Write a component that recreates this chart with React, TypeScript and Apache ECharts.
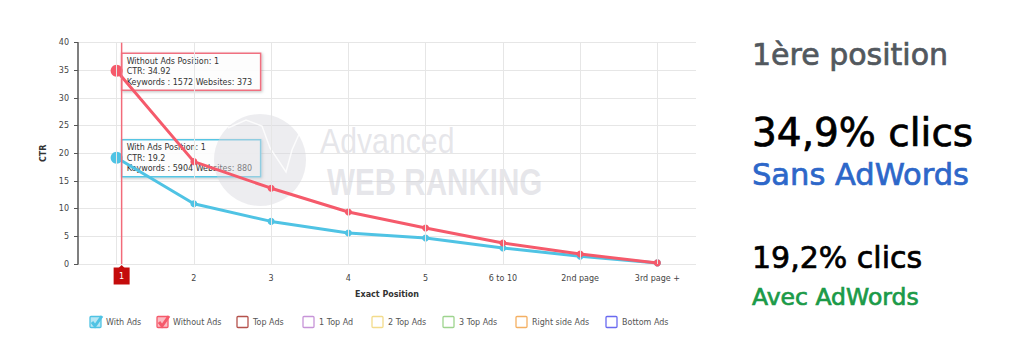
import React, { useEffect, useRef } from "react";
import * as echarts from "echarts";

const categories = ["1", "2", "3", "4", "5", "6 to 10", "2nd page", "3rd page +"];
const withAds = [19.2, 10.9, 7.7, 5.6, 4.7, 2.9, 1.4, 0.2];
const withoutAds = [34.92, 18.5, 13.7, 9.4, 6.5, 3.8, 1.8, 0.2];
const yMin = 0;
const yMax = 40;
const yInterval = 5;
const xAxisName = "Exact Position";
const yAxisName = "CTR";
const legendNames = ["With Ads", "Without Ads", "Top Ads", "1 Top Ad", "2 Top Ads", "3 Top Ads", "Right side Ads", "Bottom Ads"];
const legendChecked = [true, true, false, false, false, false, false, false];
const tipWithout = ["Without Ads Position: 1", "CTR: 34.92", "Keywords : 1572 Websites: 373"];
const tipWith = ["With Ads Position: 1", "CTR: 19.2", "Keywords : 5904 Websites: 880"];
const panelTitle = "1ère position";
const panelWithout = "34,9% clics";
const panelWithoutLabel = "Sans AdWords";
const panelWith = "19,2% clics";
const panelWithLabel = "Avec AdWords";
const watermark = ["Advanced", "WEB RANKING"];

// styles / layout (not data)
const RED = "#f55a6b";
const CYAN = "#4fc3e4";
const legendColors = ["#4fc3e4", "#f55a6b", "#b5524c", "#c794d8", "#f3dc8c", "#9ed48e", "#f4b063", "#6a6af0"];
const legendX = [90, 157, 237, 303, 372, 443, 516, 606];
const FONT = "DejaVu Sans";

export default function App() {
  const ref = useRef<HTMLDivElement>(null);
  useEffect(() => {
    const chart = echarts.init(ref.current!, null, { renderer: "svg" });
    const axisText = { fontFamily: FONT, fontSize: 8, color: "#444" };
    chart.setOption({
      animation: false,
      grid: { left: 78, right: 328, top: 42.7, bottom: 88 },
      xAxis: {
        type: "category",
        data: categories,
        boundaryGap: true,
        axisLine: { show: false },
        axisTick: { show: false },
        splitLine: { show: false },
        axisLabel: { ...axisText, margin: 10 },
        name: xAxisName,
        nameLocation: "middle",
        nameGap: 26,
        nameTextStyle: { fontFamily: FONT, fontSize: 8, fontWeight: "bold", color: "#333" },
      },
      yAxis: {
        type: "value",
        min: yMin,
        max: yMax,
        interval: yInterval,
        axisLine: { show: true, lineStyle: { color: "#555", width: 1.5 } },
        axisTick: { show: true, length: 4, lineStyle: { color: "#555" } },
        axisLabel: { ...axisText, margin: 9 },
        splitLine: { lineStyle: { color: "#e6e6e6" } },
        name: yAxisName,
        nameLocation: "middle",
        nameGap: 26,
        nameRotate: 90,
        nameTextStyle: { fontFamily: FONT, fontSize: 8, fontWeight: "bold", color: "#333" },
      },
      series: [
        {
          type: "line",
          z: 1,
          data: withAds,
          symbol: "none",
          lineStyle: { opacity: 0 },
          silent: true,
          markLine: {
            silent: true,
            symbol: "none",
            label: { show: false },
            lineStyle: { color: "#e6e6e6", type: "solid", width: 1 },
            data: categories.map((c) => ({ xAxis: c })),
          },
        },
        {
          name: "With Ads",
          type: "line",
          z: 3,
          data: withAds.map((v, i) => (i === 0 ? { value: v, symbolSize: 12 } : v)),
          symbol: "circle",
          symbolSize: 7,
          itemStyle: { color: CYAN },
          lineStyle: { color: CYAN, width: 3 },
        },
        {
          name: "Without Ads",
          type: "line",
          z: 4,
          data: withoutAds.map((v, i) => (i === 0 ? { value: v, symbolSize: 12 } : v)),
          symbol: "circle",
          symbolSize: 7,
          itemStyle: { color: RED },
          lineStyle: { color: RED, width: 3 },
        },
      ],
    });

    const px = (cat: string, v: number) =>
      chart.convertToPixel({ xAxisIndex: 0, yAxisIndex: 0 }, [cat, v]) as number[];
    const pRed = px(categories[0], withoutAds[0]);
    const pCyan = px(categories[0], withAds[0]);
    const yBottom = px(categories[0], yMin)[1];
    const yTop = px(categories[0], yMax)[1];
    const cx = pRed[0] + 5;

    const tipBox = (lines: string[], top: number, color: string) => ({
      type: "group",
      z: 100,
      children: [
        {
          type: "rect",
          shape: { x: cx, y: top, width: 139, height: 37 },
          style: {
            fill: "rgba(255,255,255,0.92)",
            stroke: color,
            lineWidth: 1.5,
            shadowBlur: 3,
            shadowOffsetX: 1,
            shadowOffsetY: 1,
            shadowColor: "rgba(0,0,0,0.25)",
          },
        },
        ...lines.map((t, i) => ({
          type: "text",
          x: cx + 5,
          y: top + 8 + i * 10.5,
          style: { text: t, font: `8px '${FONT}'`, fill: "#333", verticalAlign: "middle" },
        })),
      ],
    });

    const legendEls: any[] = [];
    legendNames.forEach((name, i) => {
      const x = legendX[i];
      const y = 322;
      const c = legendColors[i];
      legendEls.push({
        type: "rect",
        shape: { x, y: y - 5.5, width: 11, height: 11, r: 1 },
        style: { fill: legendChecked[i] ? c + "66" : "#fff", stroke: c, lineWidth: 1.3 },
      });
      if (legendChecked[i]) {
        legendEls.push({
          type: "polyline",
          shape: { points: [[x + 2, y], [x + 5, y + 4], [x + 12, y - 6]] },
          style: { stroke: c, lineWidth: 3, fill: "none" },
        });
      }
      legendEls.push({
        type: "text",
        x: x + 16,
        y,
        style: { text: name, font: `8px '${FONT}'`, fill: "#555", verticalAlign: "middle" },
      });
    });

    const panelText = (t: string, size: number, baseline: number, color: string) => ({
      type: "text",
      x: 752,
      y: baseline - 0.35 * size,
      style: {
        text: t,
        font: `${size}px '${FONT}'`,
        fill: color,
        stroke: color,
        lineWidth: 0.7,
        verticalAlign: "middle",
      },
    });

    const wmColor = "rgba(200,200,208,0.45)";

    chart.setOption({
      graphic: {
        elements: [
          // watermark
          {
            type: "circle",
            z: 1,
            shape: { cx: 260, cy: 160, r: 46 },
            style: { fill: "rgba(215,215,222,0.45)" },
          },
          {
            type: "polyline",
            z: 1,
            shape: { points: [[228, 128], [246, 120], [262, 126], [270, 148], [286, 172], [292, 150], [300, 132]] },
            style: { stroke: "rgba(255,255,255,0.8)", lineWidth: 1.5, fill: "none" },
          },
          {
            type: "text",
            z: 1,
            x: 320,
            y: 141,
            scaleX: 0.84,
            style: { text: watermark[0], font: `36px 'Liberation Sans'`, fill: wmColor, verticalAlign: "middle" },
          },
          {
            type: "text",
            z: 1,
            x: 327,
            y: 182,
            scaleX: 0.8,
            style: { text: watermark[1], font: `bold 37px 'Liberation Sans'`, fill: wmColor, verticalAlign: "middle" },
          },
          // crosshair
          {
            type: "line",
            z: 50,
            shape: { x1: cx, y1: yTop, x2: cx, y2: yBottom },
            style: { stroke: "#f26b7a", lineWidth: 1.5 },
          },
          {
            type: "polygon",
            z: 60,
            shape: { points: [[cx - 3, yBottom + 4], [cx, yBottom + 1], [cx + 3, yBottom + 4]] },
            style: { fill: "#c40c0c" },
          },
          {
            type: "rect",
            z: 60,
            shape: { x: cx - 8, y: yBottom + 3.5, width: 16, height: 17 },
            style: { fill: "#c40c0c" },
          },
          {
            type: "text",
            z: 61,
            x: cx,
            y: yBottom + 12,
            style: { text: categories[0], font: `8px '${FONT}'`, fill: "#fff", align: "center", verticalAlign: "middle" },
          },
          tipBox(tipWithout, pRed[1] - 17.5, "#f07080"),
          tipBox(tipWith, pCyan[1] - 18, "#56c5e3"),
          ...legendEls,
          panelText(panelTitle, 30, 65, "#52585e"),
          panelText(panelWithout, 39, 146, "#000"),
          panelText(panelWithoutLabel, 30.5, 185, "#2d67c9"),
          panelText(panelWith, 30, 268, "#000"),
          panelText(panelWithLabel, 23.5, 305, "#1b9a48"),
        ],
      },
    });
    return () => chart.dispose();
  }, []);
  return (
    <div
      ref={ref}
      style={{ position: "absolute", left: 0, top: 0, width: 1024, height: 352, background: "#fff" }}
    />
  );
}
